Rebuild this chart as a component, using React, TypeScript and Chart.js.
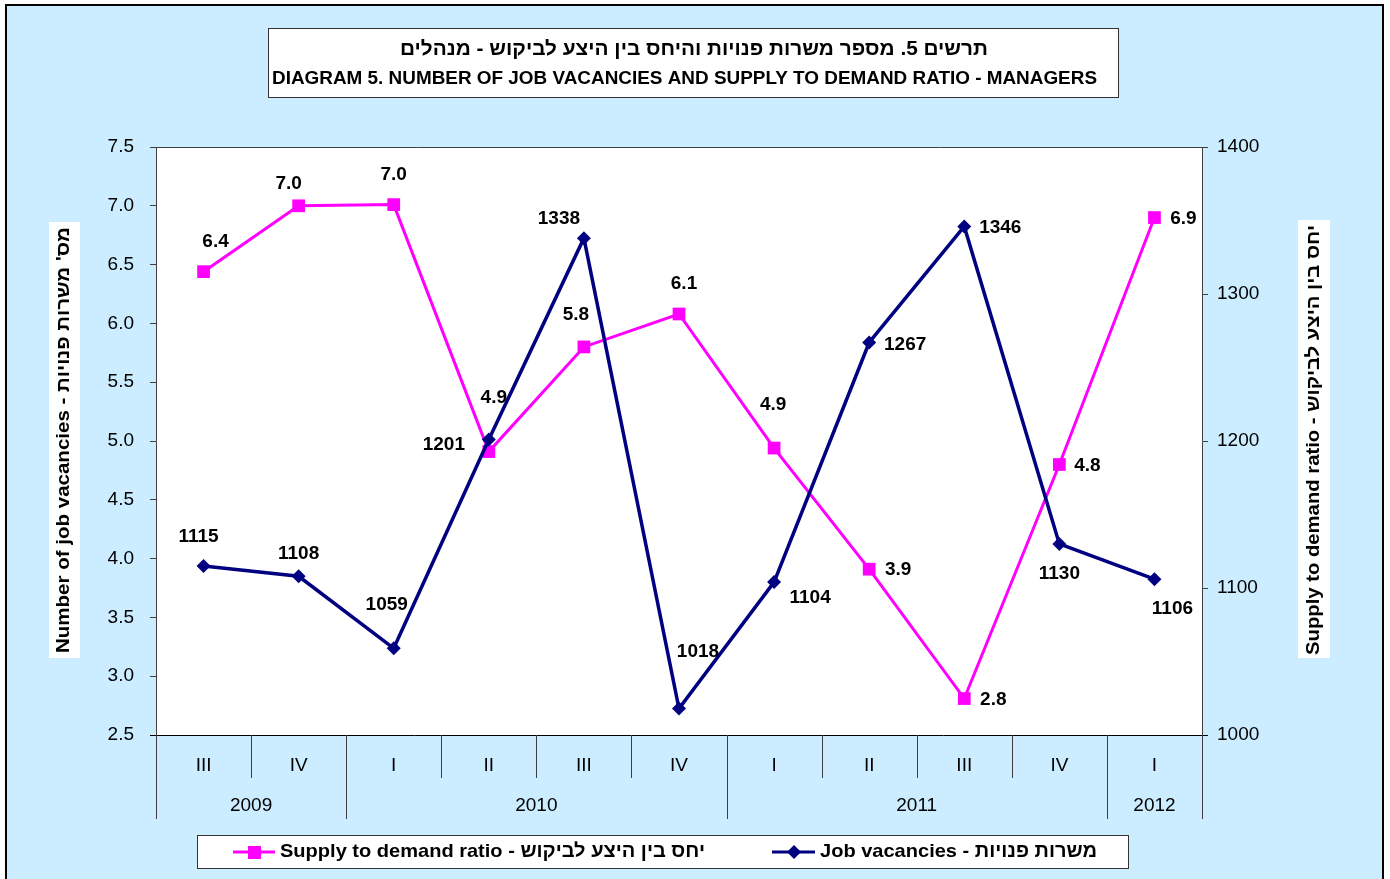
import React, { useEffect, useRef } from "react";
import { Chart, registerables } from "chart.js";

Chart.register(...registerables);

const quarters = ["III", "IV", "I", "II", "III", "IV", "I", "II", "III", "IV", "I"];
const years = ["2009", "2010", "2011", "2012"];
const yearSpans = [2, 4, 4, 1];
const supplyRatio = [6.44, 7.0, 7.01, 4.91, 5.8, 6.08, 4.94, 3.91, 2.81, 4.8, 6.9];
const jobVacancies = [1115, 1108, 1059, 1201, 1338, 1018, 1104, 1267, 1346, 1130, 1106];
const leftTicksMin = 2.5;
const leftTicksMax = 7.5;
const rightTicksMin = 1000;
const rightTicksMax = 1400;

// label placement offsets (annotation layout, relative to each point)
const supplyLabelOffsets = [[12, -31], [-10, -23], [0, -31], [5, -55], [-8, -33], [5, -31], [-1, -44], [29, 0], [29, 0], [28, 0], [29, 0]];
const vacancyLabelOffsets = [[-5, -30], [0, -23], [-7, -45], [-45, 4], [-25, -20], [19, -58], [36, 15], [36, 1], [36, 0], [0, 29], [18, 29]];

const titleHe = "תרשים 5. מספר משרות פנויות והיחס בין היצע לביקוש - מנהלים";
const titleEn = "DIAGRAM 5. NUMBER OF JOB VACANCIES AND SUPPLY TO DEMAND RATIO - MANAGERS";
const leftAxisTitle = "Number of job vacancies - מס' משרות פנויות";
const rightAxisTitle = "Supply to demand ratio - יחס בין היצע לביקוש";
const legendSupply = "Supply to demand ratio - יחס בין היצע לביקוש";
const legendVacancies = "Job vacancies - משרות פנויות";

const PINK = "#FF00FF";
const NAVY = "#000080";
const BG = "#CCECFF";
const FONT = "'Liberation Sans', Arial, sans-serif";

function fitText(ctx: CanvasRenderingContext2D, text: string, cx: number, cy: number, w: number, font: string, dir: CanvasDirection = "ltr") {
  ctx.save();
  ctx.font = font;
  ctx.direction = dir;
  const m = ctx.measureText(text).width;
  ctx.translate(cx, cy);
  ctx.scale(w / m, 1);
  ctx.textAlign = "center";
  ctx.textBaseline = "middle";
  ctx.fillStyle = "#000";
  ctx.fillText(text, 0, 0);
  ctx.restore();
}

const decorPlugin = {
  id: "decor",
  beforeDraw(chart: any) {
    const ctx: CanvasRenderingContext2D = chart.ctx;
    const { left, right, top, bottom } = chart.chartArea;
    ctx.save();
    ctx.fillStyle = "#fff";
    ctx.fillRect(0, 0, chart.width, chart.height);
    ctx.fillStyle = BG;
    ctx.fillRect(6, 5, 1377, 900);
    ctx.strokeStyle = "#000";
    ctx.lineWidth = 2;
    ctx.strokeRect(6, 5, 1377, 900);
    // plot area
    ctx.fillStyle = "#fff";
    ctx.fillRect(left, top, right - left, bottom - top);
    // title box
    ctx.fillStyle = "#fff";
    ctx.fillRect(268.5, 28.5, 850, 69);
    ctx.strokeStyle = "#333";
    ctx.lineWidth = 1;
    ctx.strokeRect(268.5, 28.5, 850, 69);
    fitText(ctx, titleHe, 694, 49, 588, `bold 20px ${FONT}`, "rtl");
    fitText(ctx, titleEn, 684.5, 79, 825, `bold 19px ${FONT}`);
    // axis title boxes
    ctx.fillStyle = "#fff";
    ctx.fillRect(49, 222, 31, 436);
    ctx.fillRect(1298, 220, 32, 438);
    ctx.save();
    ctx.translate(64.5, 440);
    ctx.rotate(-Math.PI / 2);
    fitText(ctx, leftAxisTitle, 0, 0, 426, `bold 18px ${FONT}`);
    ctx.restore();
    ctx.save();
    ctx.translate(1314, 440);
    ctx.rotate(-Math.PI / 2);
    fitText(ctx, rightAxisTitle, 0, 0, 430, `bold 18px ${FONT}`);
    ctx.restore();
    // legend box
    ctx.fillStyle = "#fff";
    ctx.fillRect(197.5, 835.5, 931, 33);
    ctx.strokeStyle = "#333";
    ctx.strokeRect(197.5, 835.5, 931, 33);
    // pink sample
    ctx.strokeStyle = PINK;
    ctx.lineWidth = 3;
    ctx.beginPath();
    ctx.moveTo(233, 852);
    ctx.lineTo(275, 852);
    ctx.stroke();
    ctx.fillStyle = PINK;
    ctx.fillRect(248, 846, 13, 13);
    fitText(ctx, legendSupply, 280 + 425 / 2, 852, 425, `bold 19px ${FONT}`);
    // navy sample
    ctx.strokeStyle = NAVY;
    ctx.beginPath();
    ctx.moveTo(772, 852);
    ctx.lineTo(815, 852);
    ctx.stroke();
    ctx.fillStyle = NAVY;
    ctx.beginPath();
    ctx.moveTo(794, 845);
    ctx.lineTo(801, 852);
    ctx.lineTo(794, 859);
    ctx.lineTo(787, 852);
    ctx.closePath();
    ctx.fill();
    fitText(ctx, legendVacancies, 820 + 277 / 2, 852, 277, `bold 19px ${FONT}`);
    ctx.restore();
  },
  afterDraw(chart: any) {
    const ctx: CanvasRenderingContext2D = chart.ctx;
    const { left, right, top, bottom } = chart.chartArea;
    const n = quarters.length;
    const slot = (right - left) / n;
    ctx.save();
    ctx.strokeStyle = "#404040";
    ctx.lineWidth = 1;
    ctx.beginPath();
    ctx.moveTo(left, top + 0.5);
    ctx.lineTo(right, top + 0.5);
    ctx.stroke();
    ctx.strokeStyle = "#000";
    ctx.beginPath();
    ctx.moveTo(left - 6, bottom + 0.5);
    ctx.lineTo(right + 6, bottom + 0.5);
    ctx.stroke();
    // separators
    const yearBounds = new Set<number>();
    let acc = 0;
    yearBounds.add(0);
    yearSpans.forEach((s) => {
      acc += s;
      yearBounds.add(acc);
    });
    ctx.strokeStyle = "#404040";
    for (let k = 0; k <= n; k++) {
      const x = Math.round(left + k * slot) + 0.5;
      ctx.beginPath();
      ctx.moveTo(x, bottom);
      ctx.lineTo(x, yearBounds.has(k) ? 819 : 778);
      ctx.stroke();
    }
    ctx.fillStyle = "#000";
    ctx.font = `19px ${FONT}`;
    ctx.textAlign = "center";
    ctx.textBaseline = "middle";
    quarters.forEach((q, i) => {
      ctx.fillText(q, left + (i + 0.5) * slot, 766);
    });
    acc = 0;
    years.forEach((y, i) => {
      const c = left + (acc + yearSpans[i] / 2) * slot;
      ctx.fillText(y, c, 806);
      acc += yearSpans[i];
    });
    ctx.restore();
  },
  afterDatasetsDraw(chart: any) {
    const ctx: CanvasRenderingContext2D = chart.ctx;
    ctx.save();
    ctx.fillStyle = "#000";
    ctx.font = `bold 19px ${FONT}`;
    ctx.textAlign = "center";
    ctx.textBaseline = "middle";
    const m0 = chart.getDatasetMeta(0);
    m0.data.forEach((pt: any, i: number) => {
      const [dx, dy] = supplyLabelOffsets[i];
      ctx.fillText(supplyRatio[i].toFixed(1), pt.x + dx, pt.y + dy + 1);
    });
    const m1 = chart.getDatasetMeta(1);
    m1.data.forEach((pt: any, i: number) => {
      const [dx, dy] = vacancyLabelOffsets[i];
      ctx.fillText(String(jobVacancies[i]), pt.x + dx, pt.y + dy + 1);
    });
    ctx.restore();
  },
};

export default function App() {
  const ref = useRef<HTMLCanvasElement>(null);
  useEffect(() => {
    const canvas = ref.current!;
    const chart = new Chart(canvas, {
      type: "line",
      data: {
        labels: quarters,
        datasets: [
          {
            label: legendSupply,
            data: supplyRatio,
            yAxisID: "y",
            borderColor: PINK,
            backgroundColor: PINK,
            borderWidth: 3,
            pointStyle: "rect",
            pointRadius: 9,
            pointBorderWidth: 0,
            pointBackgroundColor: PINK,
            tension: 0,
            order: 1,
          },
          {
            label: legendVacancies,
            data: jobVacancies,
            yAxisID: "y1",
            borderColor: NAVY,
            backgroundColor: NAVY,
            borderWidth: 3.5,
            pointStyle: "rectRot",
            pointRadius: 7,
            pointBorderWidth: 0,
            pointBackgroundColor: NAVY,
            tension: 0,
            order: 0,
          },
        ],
      },
      options: {
        responsive: false,
        animation: false,
        layout: { padding: { top: 147, left: 0, right: 0, bottom: 0 } },
        plugins: { legend: { display: false }, title: { display: false }, tooltip: { enabled: false } },
        scales: {
          x: {
            type: "category",
            offset: true,
            grid: { display: false },
            ticks: { display: false },
            border: { display: false },
            afterFit: (s: any) => {
              s.height = 144;
            },
          },
          y: {
            position: "left",
            min: leftTicksMin,
            max: leftTicksMax,
            ticks: {
              stepSize: 0.5,
              callback: (v: any) => Number(v).toFixed(1),
              font: { family: FONT, size: 19 },
              color: "#000",
              padding: 16,
            },
            grid: { drawOnChartArea: false, tickLength: 6, color: "#404040" },
            border: { color: "#404040", width: 1 },
            afterFit: (s: any) => {
              s.width = 156;
            },
          },
          y1: {
            position: "right",
            min: rightTicksMin,
            max: rightTicksMax,
            ticks: {
              stepSize: 100,
              callback: (v: any) => String(Math.round(Number(v))),
              font: { family: FONT, size: 19 },
              color: "#000",
              padding: 9,
            },
            grid: { drawOnChartArea: false, tickLength: 6, color: "#404040" },
            border: { color: "#404040", width: 1 },
            afterFit: (s: any) => {
              s.width = 188;
            },
          },
        },
      },
      plugins: [decorPlugin],
    });
    return () => chart.destroy();
  }, []);
  return (
    <div style={{ position: "fixed", left: 0, top: 0, width: 1390, height: 879 }}>
      <canvas ref={ref} width={1390} height={879} style={{ width: 1390, height: 879, display: "block" }} />
    </div>
  );
}
